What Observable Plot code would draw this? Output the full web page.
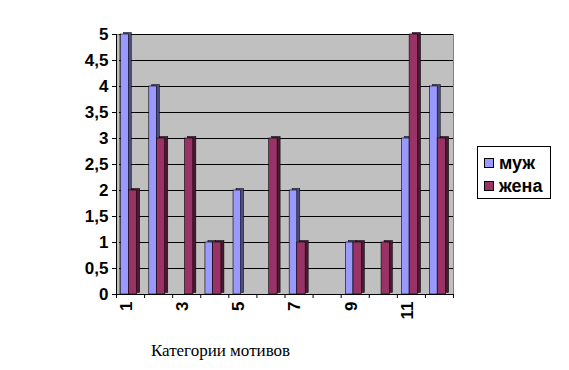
<!DOCTYPE html>
<html><head><meta charset="utf-8">
<script src="https://cdn.jsdelivr.net/npm/d3@7"></script>
<script src="https://cdn.jsdelivr.net/npm/@observablehq/plot@0.6"></script>
<style>
body{margin:0;background:#fff;}
#wrap{position:relative;width:569px;height:370px;}
#legend{position:absolute;left:477px;top:146px;width:74px;height:53px;border:1px solid #000;background:#fff;font-family:"Liberation Sans",Arial,sans-serif;font-weight:bold;font-size:18px;box-sizing:border-box;padding:4px 0 0 6px;}
#legend div{height:23px;line-height:20px;display:flex;align-items:center;}
#legend span.sw{display:inline-block;width:8px;height:8px;border:1px solid #000;margin-right:5px;}
#title{position:absolute;left:0;width:441px;text-align:center;top:341px;font-family:"Times New Roman","Liberation Serif","DejaVu Serif",serif;font-size:17px;font-weight:normal;}
</style></head>
<body><div id="wrap"></div>
<script>
const categories = [1,2,3,4,5,6,7,8,9,10,11,12];
const seriesNames = ["муж","жена"];
const muzh = [5,4,0,1,2,0,2,0,1,0,3,4];
const zhena = [2,3,3,1,0,3,1,0,1,1,5,3];
const yTicks = [0,0.5,1,1.5,2,2.5,3,3.5,4,4.5,5];
const xLabelCats = [1,3,5,7,9,11];
const colors = ["#9999FF","#993366"];
const sideColors = ["#4C4C7F","#4A1A32"];

const data = [];
categories.forEach((c,i)=>{
  data.push({cat:c, series:seriesNames[0], value:muzh[i], k:0});
  data.push({cat:c, series:seriesNames[1], value:zhena[i], k:1});
});
const off = [[0.167,0.438],[0.438,0.737]];
const fmt = d => String(d).replace(".", ",");

const marks = [
  Plot.frame({fill:"#C0C0C0", stroke:"#808080"}),
  Plot.ruleX([0], {stroke:"#808080", dx:3}),
  Plot.gridY(yTicks.filter(v=>v>0), {stroke:"#000", strokeOpacity:1, insetLeft:3}),
];
[0,1].forEach(k=>{
  const ds = data.filter(d=>d.k===k);
  marks.push(Plot.rectY(ds, {x1:d=>d.cat-1+off[k][0], x2:d=>d.cat-1+off[k][1], y1:0, y2:"value", fill:sideColors[k], stroke:"#000", strokeWidth:0.5, dx:3, dy:-1.5}));
  marks.push(Plot.rectY(ds, {x1:d=>d.cat-1+off[k][0], x2:d=>d.cat-1+off[k][1], y1:0, y2:"value", fill:colors[k], stroke:"#000", strokeWidth:0.6}));
});
marks.push(
  Plot.ruleX([0], {stroke:"#000"}),
  Plot.ruleY([0], {stroke:"#000"}),
  Plot.axisY({ticks:yTicks, tickFormat:fmt, tickSize:4, tickPadding:4, label:null}),
  Plot.axisX({ticks:d3.range(0,13), tickFormat:()=>"", tickSize:4, label:null}),
  Plot.axisX(xLabelCats.map(c=>c-0.5), {tickFormat:d=>String(d+0.5), tickSize:0, tickRotate:-90, tickPadding:7, dx:-4, label:null})
);

const chart = Plot.plot({
  width:569, height:370,
  marginLeft:116, marginRight:116, marginTop:34, marginBottom:76,
  x:{type:"linear", domain:[0,12]},
  y:{domain:[0,5]},
  style:{fontFamily:"'Liberation Sans',Arial,sans-serif", fontSize:"17px", fontWeight:"bold", color:"#000", background:"#fff"},
  marks
});
const wrap = document.getElementById("wrap");
wrap.appendChild(chart);
const lg = document.createElement("div"); lg.id="legend";
seriesNames.forEach((n,i)=>{
  const r=document.createElement("div");
  r.innerHTML=`<span class="sw" style="background:${colors[i]}"></span>${n}`;
  lg.appendChild(r);
});
wrap.appendChild(lg);
const t=document.createElement("div"); t.id="title"; t.textContent="Категории мотивов";
wrap.appendChild(t);
</script></body></html>
